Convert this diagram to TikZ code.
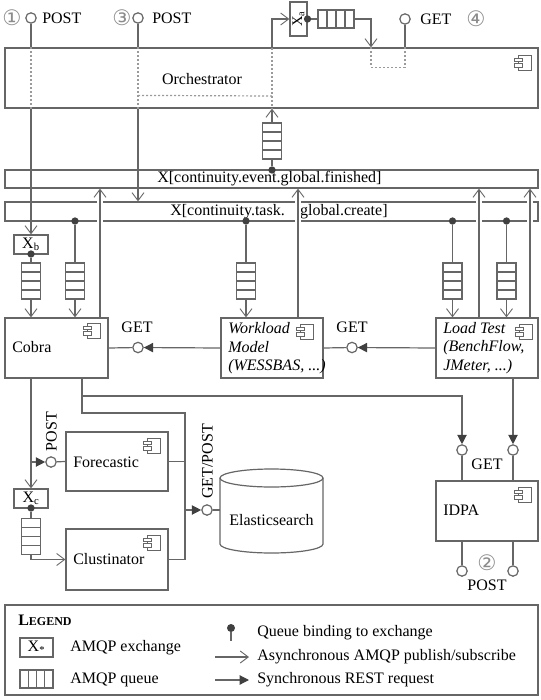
\documentclass[tikz,border=0pt,12pt]{standalone}
\usepackage{fontspec}
\setmainfont{Liberation Serif}
\newfontfamily\symfont{DejaVu Sans}
\usetikzlibrary{arrows.meta,calc,fit}
\definecolor{lc}{HTML}{666666}
\definecolor{dk}{HTML}{404040}
\definecolor{dc}{HTML}{9A9A9A}
\definecolor{nc}{HTML}{8C8C8C}
\tikzset{
  ln/.style={draw=lc, line width=0.9pt},
  async/.style={ln, -{Straight Barb[length=6pt,width=9pt,line width=0.7pt]}},
  sync/.style={ln, -{Triangle[length=7pt,width=7pt,color=dk]}},
  dotl/.style={draw=dc, line width=0.9pt, dash pattern=on 1.5pt off 1.5pt},
  box/.style={draw=lc, line width=0.9pt, fill=white, inner sep=0pt},
  xbox/.style={draw=lc, line width=0.9pt, fill=white, inner sep=0pt},
  lbl/.style={anchor=west, inner sep=0pt},
  numc/.style={text=nc, font=\symfont\fontsize{16}{17}\selectfont, inner sep=0pt},
  lol/.style={circle, draw=lc, line width=0.9pt, fill=white, inner sep=0pt, minimum size=7.8pt},
  bdot/.style={circle, fill=dk, inner sep=0pt, minimum size=5.5pt},
  vq/.style={draw=lc, line width=0.9pt, fill=white, inner sep=0pt, minimum width=14.25pt, minimum height=27pt,
    path picture={\foreach \i in {1,2,3}{\draw[lc, line width=0.9pt] ($(path picture bounding box.north west)!\i/4!(path picture bounding box.south west)$) -- ++(40,0);}}},
  hq/.style={draw=lc, line width=0.9pt, fill=white, inner sep=0pt, minimum width=27pt, minimum height=13.5pt,
    path picture={\foreach \i in {1,2,3}{\draw[lc, line width=0.9pt] ($(path picture bounding box.north west)!\i/4!(path picture bounding box.north east)$) -- ++(0,40);}}},
  comp/.pic={
    \draw[lc, line width=0.7pt, fill=white] (-13,0) rectangle (0,15);
    \draw[lc, line width=0.7pt, fill=white] (-17,3) rectangle (-9,6.5);
    \draw[lc, line width=0.7pt, fill=white] (-17,8.5) rectangle (-9,12);
  }
}
\begin{document}
\begin{tikzpicture}[x=0.75pt,y=-0.75pt]
\useasboundingbox (0,0) rectangle (541,700);

% ---------- top row ----------
\node[numc] (n1) at (12,18) {①};
\node[lol] (c1) at (31,18) {};
\node[lbl] (p1) at (42,18) {POST};
\node[numc] (n3) at (122,18) {③};
\node[lol] (c3) at (138,18) {};
\node[lbl] (p3) at (152,18) {POST};
\node[xbox, minimum width=12.75pt, minimum height=25.5pt] (xa) at (298.5,19) {\rotatebox{90}{\fontsize{11}{12}\selectfont X\textsubscript{a}}};
\node[hq] (hq) at (336,19) {};
\coordinate (t1) at (371,19);
\node[lol] (c4) at (405,19) {};
\node[lbl] (g4) at (420,19) {GET};
\node[numc] (n4) at (476,19) {④};

% ---------- orchestrator ----------
\node[box, fit={(5,48)(538,108)}] (orch) {};
\node (orchl) at (202,79) {Orchestrator};
\pic at ($(orch.north east)+(-7,8)$) {comp};
\coordinate (o3) at (272,48);

\draw[ln] (c1) -- (c1 |- orch.north);
\draw[dotl] (c1 |- orch.north) -- (c1 |- orch.south);
\draw[ln] (c3) -- (c3 |- orch.north);
\draw[dotl] (c3 |- orch.north) -- (c3 |- orch.south);
\draw[dotl] ($(c3 |- orch.north)+(0,48)$) -- ($(o3)+(0,48)$);
\draw[dotl] (o3) -- (o3 |- orch.south);
\draw[async] (o3) |- (xa.west);
\node[bdot] (xad) at (307.5,19) {};
\draw[ln] (xad) -- (hq.west);
\draw[async] (hq.east) -- (t1) -- (t1 |- orch.north);
\draw[dotl] (t1 |- orch.north) -- ($(t1 |- orch.north)+(0,20)$) -| (c4 |- orch.north);
\draw[ln] (c4) -- (c4 |- orch.north);

% ---------- exchange bars ----------
\node[box, fit={(5,170)(538,188)}] (fin) {};
\node[lbl] (finl) at (157,179) {X[continuity.event.global.finished]};
\node[box, fit={(5,202)(538,221)}] (cre) {};
\node[lbl] (crel) at (170,211.5) {X[continuity.task.\hspace{7.5pt} global.create]};

\node[vq] (q0) at (272,141) {};
\node[bdot] (fd) at (272,170) {};
\draw[ln] (fd) -- (q0.south);
\draw[async] (q0.north) -- (o3 |- orch.south);

\node[xbox, minimum width=25.5pt, minimum height=14.25pt] (xb) at (31,244.5) {X\textsubscript{b}};
\node[bdot] (xbd) at (31,254) {};
\draw[async] (c1 |- orch.south) -- (xb.north);
\draw[async] (c3 |- orch.south) -- (c3 |- cre.north);

% ---------- components ----------
\node[box, fit={(5,318)(108,378)}] (cobra) {};
\node[lbl] (cobral) at (12,347) {Cobra};
\pic at ($(cobra.north east)+(-8,6)$) {comp};

\node[box, fit={(221,318)(323,378)}] (wm) {};
\node[lbl, font=\itshape] (wm1) at (228,328) {Workload};
\node[lbl, font=\itshape] (wm2) at (228,347.5) {Model};
\node[lbl, font=\itshape] (wm3) at (228,367) {(WESSBAS, ...)};
\pic at ($(wm.north east)+(-10,7)$) {comp};

\node[box, fit={(436,318)(538,378)}] (lt) {};
\node[lbl, font=\itshape] (lt1) at (443,328) {Load Test};
\node[lbl, font=\itshape] (lt2) at (443,347.5) {(BenchFlow,};
\node[lbl, font=\itshape] (lt3) at (443,367) {JMeter, ...)};
\pic at ($(lt.north east)+(-6,7)$) {comp};

% queues row
\node[vq] (q1) at (31,281) {};
\node[vq] (q2) at (75,281) {};
\node[vq] (q3) at (246,281) {};
\node[vq] (q4) at (452.5,281) {};
\node[vq] (q5) at (506.5,281) {};
\node[bdot] (d2) at (75,221) {};
\node[bdot] (d3) at (246,221) {};
\node[bdot] (d4) at (452.5,221) {};
\node[bdot] (d5) at (506.5,221) {};
\draw[ln] (xbd) -- (q1.north);
\draw[ln] (d2) -- (q2.north);
\draw[ln] (d3) -- (q3.north);
\draw[ln] (d4) -- (q4.north);
\draw[ln] (d5) -- (q5.north);
\draw[async] (q1.south) -- (q1 |- cobra.north);
\draw[async] (q2.south) -- (q2 |- cobra.north);
\draw[async] (q3.south) -- (q3 |- wm.north);
\draw[async] (q4.south) -- (q4 |- lt.north);
\draw[async] (q5.south) -- (q5 |- lt.north);

% upward publish lines with white gaps across the create bar
\coordinate (u1) at (100,318);
\coordinate (u2) at (298,318);
\coordinate (u3) at (479,318);
\coordinate (u4) at (530,318);
\foreach \u in {u1,u2,u3,u4}{
  \fill[white] ($(\u |- cre.north)+(-3,-2)$) rectangle ($(\u |- cre.south)+(3,2)$);
  \draw[async] (\u) -- (\u |- fin.south);
}

% GET between components
\node[lol] (gw) at (138,347.5) {};
\node (gwl) at (137,327) {GET};
\draw[ln] (cobra.east) -- (gw);
\draw[sync] (wm.west) -- (gw);
\node[lol] (gl) at (352,347.5) {};
\node (gll) at (352,327) {GET};
\draw[ln] (wm.east) -- (gl);
\draw[sync] (lt.west) -- (gl);

% ---------- lower part ----------
\node[box, fit={(66,432)(168,491)}] (fc) {};
\node[lbl] (fcl) at (73,462) {Forecastic};
\pic at ($(fc.north east)+(-8,7)$) {comp};
\node[box, fit={(66,529)(168,590)}] (cl) {};
\node[lbl] (cll) at (73,559) {Clustinator};
\pic at ($(cl.north east)+(-8,7)$) {comp};

% Elasticsearch cylinder
\draw[ln, fill=white] (220,478) -- (220,544) arc[start angle=180, end angle=0, x radius=51.5, y radius=9]
  -- (323,478) arc[start angle=0, end angle=-180, x radius=51.5, y radius=9] -- cycle;
\draw[ln] (220,478) arc[start angle=180, end angle=0, x radius=51.5, y radius=9];
\node (es) at (271.5,520) {Elasticsearch};
\coordinate (esw) at (220,510);

\node[box, fit={(436,481)(538,541)}] (idpa) {};
\node[lbl] (idpal) at (443,510) {IDPA};
\pic at ($(idpa.north east)+(-7,7)$) {comp};

\coordinate (cb1) at (31,378);
\coordinate (cb2) at (82,378);
\coordinate (j1) at (82,396);
\coordinate (j2) at (82,413);
\coordinate (bt) at (185,413);
\coordinate (bb) at (185,559.5);
\coordinate (bm) at (185,510);

\node[lol] (ig1) at (462,450) {};
\node[lol] (ig2) at (513,450) {};
\node (igl) at (487,464) {GET};
\node[lol] (ip1) at (462,571) {};
\node[lol] (ip2) at (513,571) {};
\node[numc] (n2) at (487,563) {②};
\node (ipl) at (487,585) {POST};

\draw[ln] (cb2) -- (j2) -- (bt) -- (bb);
\draw[sync] (j1) -| (ig1);
\draw[sync] (lt.south -| ig2) -- (ig2);
\draw[ln] (ig1) -- (ig1 |- idpa.north);
\draw[ln] (ig2) -- (ig2 |- idpa.north);
\draw[ln] (ip1) -- (ip1 |- idpa.south);
\draw[ln] (ip2) -- (ip2 |- idpa.south);
\draw[ln] (fc.east) -- (fc.east -| bt);
\draw[ln] (cl.east) -- (cl.east -| bt);

\node[lol] (el) at (207,510) {};
\node[rotate=90] (elt) at (207.5,461.5) {GET/POST};
\draw[sync] (bm) -- (el);
\draw[ln] (el) -- (esw);

\node[xbox, minimum width=25.5pt, minimum height=14.25pt] (xc) at (31,498.5) {X\textsubscript{c}};
\node[bdot] (xcd) at (31,508) {};
\node[vq] (q6) at (31,536.5) {};
\draw[async] (cb1) -- (xc.north);
\node[lol] (fl) at (51,462) {};
\node[rotate=90] (flt) at (51.5,431.5) {POST};
\coordinate (fj) at (31,462);
\draw[sync] (fj) -- (fl);
\draw[ln] (fl) -- (fc.west);
\draw[ln] (xcd) -- (q6.north);
\draw[async] (q6.south) |- (cl.west);

% ---------- legend ----------
\node[box, fit={(5,605)(538,695)}] (leg) {};
\node[lbl] (legt) at (18,620) {\bfseries L{\fontsize{9}{10}\selectfont EGEND}};
\node[xbox, minimum width=24.75pt, minimum height=14.25pt] (lx) at (36.5,647.5) {X\textsubscript{*}};
\node[lbl] (lxt) at (70,648) {AMQP exchange};
\node[hq, minimum width=24.75pt] (lq) at (36.5,679) {};
\node[lbl] (lqt) at (70,680) {AMQP queue};
\node[bdot, minimum size=6pt] (ld) at (231,628) {};
\coordinate (lde) at (231,641);
\draw[ln] (ld) -- (lde);
\node[lbl] (ldt) at (257,633) {Queue binding to exchange};
\coordinate (la1) at (215,657);
\coordinate (la2) at (249,657);
\draw[async] (la1) -- (la2);
\node[lbl] (lat) at (257,657) {Asynchronous AMQP publish/subscribe};
\coordinate (ls1) at (215,680);
\coordinate (ls2) at (249,680);
\draw[sync] (ls1) -- (ls2);
\node[lbl] (lst) at (257,680) {Synchronous REST request};
\end{tikzpicture}
\end{document}
